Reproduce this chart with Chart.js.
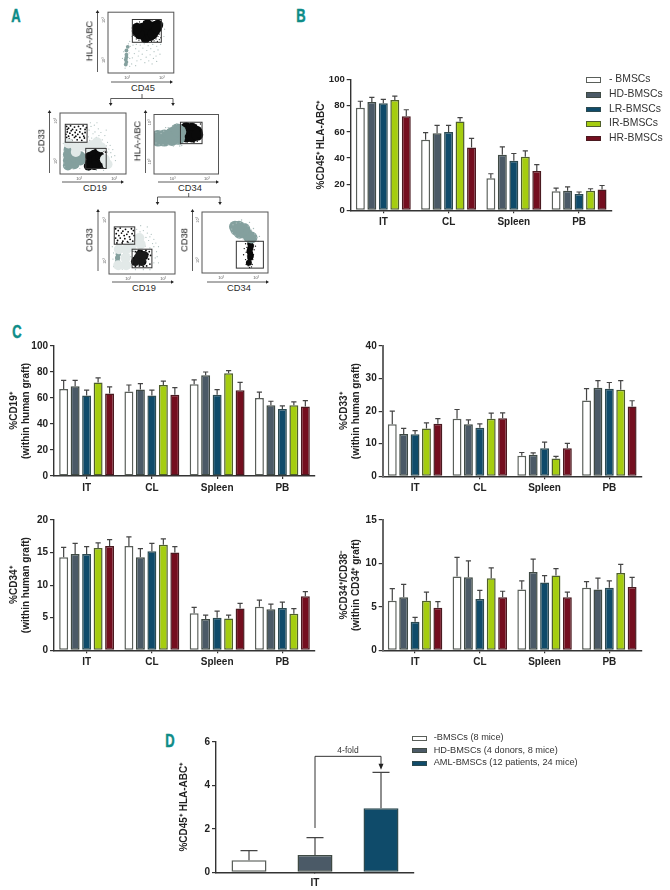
<!DOCTYPE html>
<html>
<head>
<meta charset="utf-8">
<script src="https://cdn.jsdelivr.net/npm/chart.js@4/dist/chart.umd.min.js"></script>
<style>
body { margin: 0; background: #fff; }
#page { position: relative; width: 670px; height: 890px; overflow: hidden; font-family: "Liberation Sans", sans-serif; color: #222; }
canvas { position: absolute; }
svg { position: absolute; left: 0; top: 0; }
.t { position: absolute; white-space: nowrap; line-height: 1; }
.letter { font: bold 18px "Liberation Sans", sans-serif; color: #0e8c87; -webkit-text-stroke: 0.5px #0e8c87; transform: translate(-50%, -50%) scaleX(0.72); }
.flowlab { font-size: 9.3px; transform: translate(-50%, -50%); color: #2a2a2a; }
.flowlab.rot { transform: translate(-50%, -50%) rotate(-90deg); color: #111; will-change: transform; }
.leg { font-size: 10.4px; color: #333; }
.swatch { position: absolute; box-sizing: border-box; border: 1px solid #444; }
</style>
</head>
<body>
<div id="page">
  <svg id="arrows" width="670" height="890"></svg>
  <div class="t letter" style="left:16px;top:16px">A</div>
  <div class="t letter" style="left:301px;top:16px">B</div>
  <div class="t letter" style="left:17px;top:332px">C</div>
  <div class="t letter" style="left:170px;top:741px">D</div>
</div>
<script>
// bar data
const categories = ['IT', 'CL', 'Spleen', 'PB'];
const seriesNames = ['- BMSCs', 'HD-BMSCs', 'LR-BMSCs', 'IR-BMSCs', 'HR-BMSCs'];
const fills = ['#ffffff', '#4b5a67', '#0f4b6a', '#a5cd0f', '#740e1f'];
const edges = ['#5a5f5a', '#3f4a44', '#2c4a50', '#4f5f2c', '#4a1a20'];

const bValues = [[78.5, 54, 24.5, 14.5], [83, 59, 42.5, 15], [82, 60, 38, 12.5], [84.5, 68, 41, 15], [72, 48, 30, 16]];
const bTops = [[83.5, 59.5, 28, 17], [86.5, 65, 48.5, 18], [85, 65, 43.5, 14], [87.5, 71, 45.5, 16.5], [77, 55, 35, 19]];
const cd19Values = [[67, 65, 70.5, 60], [69, 66.5, 77.5, 54.5], [62, 62, 62.5, 51.5], [72, 70, 79, 54.5], [63.5, 62.5, 66, 53.5]];
const cd19Tops = [[73.5, 70, 74, 64.5], [73.5, 71, 80, 57.5], [66, 66, 66.5, 54], [75.5, 73, 81, 57], [68.5, 68, 72, 58]];
const cd33Values = [[16, 17.7, 6.3, 23.3], [13, 16, 6.6, 27.2], [12.9, 14.9, 8.6, 26.9], [14.7, 17.7, 5.5, 26.6], [16.1, 17.8, 8.6, 21.4]];
const cd33Tops = [[20, 20.5, 7.3, 26.9], [14.7, 17.3, 7.2, 29.4], [14, 16.1, 10.5, 28.8], [16.4, 19.4, 6.1, 29.4], [17.7, 19.5, 10.1, 23.2]];
const cd34Values = [[14.3, 16, 5.7, 6.7], [14.8, 14.3, 4.8, 6.3], [14.8, 15.2, 5, 6.5], [15.7, 16.2, 4.9, 5.6], [16, 15, 6.4, 8.3]];
const cd34Tops = [[15.8, 17.4, 6.6, 7.7], [16.4, 15.6, 5.4, 7.1], [15.9, 16.4, 6, 7.4], [16.5, 17.1, 5.4, 6.4], [17, 15.9, 7.2, 9]];
const cd38Values = [[5.7, 8.5, 7, 7.2], [6.1, 8.4, 9, 7], [3.3, 5.9, 7.8, 7.2], [5.7, 8.3, 8.6, 8.9], [4.9, 6.1, 6.1, 7.3]];
const cd38Tops = [[7.1, 10.7, 8, 7.9], [7.6, 10.3, 10.5, 8.3], [3.8, 6.9, 8.6, 8], [6.7, 9.5, 9.4, 9.9], [5.6, 6.8, 6.7, 8.4]];

const dNames = ['-BMSCs (8 mice)', 'HD-BMSCs (4 donors, 8 mice)', 'AML-BMSCs (12 patients, 24 mice)'];
const dValues = [0.55, 0.8, 2.95];
const dTops = [1.0, 1.6, 4.6];

// flow plots, [x, y] in percent of the plot box, estimated by eye
const f1Gate = [[37, 81, 50.5, 88]];
const f1Black = [[44, 69], [52, 74], [61, 77], [71, 77], [76, 79], [52, 66], [61, 67], [71, 69], [57, 58], [64, 61], [47, 72], [66, 73], [56, 71], [68, 64], [74, 74], [48, 64], [44, 74], [60, 80]];
const f1BlackDots = [[38, 72], [39, 62], [41, 78], [44, 82], [48, 84], [54, 85], [60, 86], [67, 87], [73, 86], [78, 85], [80, 76], [79, 70], [78, 64], [76, 60], [73, 56], [70, 53], [66, 52], [60, 51], [52, 52], [47, 54], [43, 56], [41, 60], [75, 52], [78, 55], [80, 58]];
const f1Gray = [[28, 37], [28, 30], [27, 22], [27, 14], [30, 43], [28, 26], [28, 18]];
const f1Specks = [[31, 48], [34, 44], [38, 46], [43, 47], [49, 46], [55, 48], [61, 45], [68, 47], [74, 44], [80, 47], [85, 60], [86, 72], [84, 81], [36, 60], [33, 52], [42, 40], [47, 36], [53, 41], [59, 37], [65, 40], [70, 35], [40, 32], [46, 28], [52, 31], [58, 26], [64, 30], [69, 24], [44, 20], [50, 22], [56, 17], [62, 20], [67, 15], [37, 25], [36, 15], [42, 12], [76, 38], [79, 31], [73, 28], [22, 24], [24, 35], [33, 24], [32, 33], [33, 11], [26, 8], [74, 19]];

const f2Gates = [[8, 41, 52, 81.5], [39, 70, 9, 42]];
const f2Black = [[45, 29], [45, 19], [54, 34], [54, 24], [60, 17], [49, 37], [60, 30], [52, 14], [43, 13]];
const f2Gray = [[12, 22], [12, 32], [22, 16], [22, 27], [31, 22], [31, 29], [13, 40], [12, 14]];
const f2Pale = [[13, 50], [24, 44], [36, 46], [48, 47], [62, 44], [24, 36], [42, 44], [56, 52], [68, 24], [72, 16]];
const f2BlackDots = [[10, 78], [13, 75], [16, 79], [19, 73], [22, 77], [25, 72], [28, 78], [31, 74], [35, 79], [38, 73], [11, 69], [15, 67], [19, 64], [23, 68], [27, 65], [30, 69], [34, 66], [38, 68], [10, 60], [14, 58], [18, 55], [22, 60], [26, 56], [30, 60], [33, 55], [37, 59], [12, 54], [11, 73], [17, 71], [24, 62], [36, 62], [13, 62], [40, 76], [9, 65], [66, 38], [68, 28], [67, 18], [65, 11], [42, 40], [69, 36], [63, 40], [48, 10], [58, 11], [68, 12]];
const f2Specks = [[44, 72], [50, 66], [55, 60], [62, 68], [68, 63], [72, 52], [76, 47], [80, 40], [78, 28], [75, 20], [72, 12], [47, 78], [52, 80], [58, 74], [64, 56], [8, 46], [6, 38], [5, 28], [6, 18], [20, 8], [30, 9], [42, 6], [55, 6], [66, 6], [72, 36], [83, 30], [45, 55], [38, 46], [50, 44], [60, 44], [24, 46], [16, 46], [32, 40], [5, 50], [7, 12], [84, 22], [70, 72], [56, 84], [46, 84], [43, 61], [48, 59], [53, 69], [59, 63], [65, 49], [70, 46], [74, 41], [77, 35], [44, 50], [55, 47], [20, 49], [28, 50], [36, 43]];

const f3Gate = [[41, 74.5, 51, 87]];
const f3Black = [[50, 71], [59, 71], [66, 71], [50, 77], [59, 76], [50, 63], [59, 63], [46, 70], [67, 66]];
const f3Gray = [[6, 63], [16, 64], [25, 65], [35, 68], [40, 71], [16, 57], [28, 58], [38, 60], [6, 57], [28, 68], [36, 74]];
const f3BlackDots = [[43, 82], [46, 84], [52, 84], [57, 85], [61, 83], [66, 82], [70, 78], [72, 72], [73, 65], [71, 58], [67, 55], [62, 53], [57, 56], [52, 54], [47, 55], [43, 57], [69, 61], [64, 79], [72, 84]];
const f3Specks = [[3, 70], [9, 73], [15, 72], [22, 78], [29, 81], [35, 84], [3, 52], [8, 49], [14, 49], [22, 49], [30, 47], [37, 50], [40, 47], [43, 48], [18, 78], [11, 68]];

const f4Gates = [[8, 39, 48, 76], [35, 65, 10, 40]];
const f4Black = [[44, 26], [50, 20], [47, 32], [40, 20], [53, 30]];
const f4Gray = [[13, 26], [13, 20], [14, 32]];
const f4Pale = [[15, 40], [26, 40], [34, 44], [25, 26], [26, 14], [14, 14], [48, 48], [46, 58]];
const f4BlackDots = [[10, 73], [14, 70], [17, 74], [21, 69], [25, 72], [29, 68], [34, 73], [37, 70], [11, 65], [15, 62], [19, 66], [23, 62], [27, 64], [31, 60], [35, 65], [38, 62], [10, 58], [13, 54], [17, 58], [21, 53], [24, 57], [28, 52], [32, 56], [36, 53], [12, 50], [20, 50], [30, 50], [37, 49], [36, 37], [40, 36], [45, 38], [50, 37], [56, 38], [61, 36], [63, 30], [60, 24], [62, 16], [57, 13], [52, 12], [46, 13], [40, 12], [36, 16], [37, 26], [57, 25], [55, 18], [59, 32]];
const f4Specks = [[42, 72], [47, 68], [52, 70], [58, 66], [64, 64], [68, 56], [71, 50], [68, 44], [72, 36], [70, 26], [68, 18], [45, 56], [52, 56], [60, 54], [42, 46], [48, 44], [55, 45], [62, 42], [5, 44], [7, 34], [6, 24], [7, 12], [20, 8], [30, 10], [40, 7], [52, 7], [62, 7], [22, 34], [30, 32], [28, 20], [20, 18], [33, 28], [75, 44], [58, 76], [48, 78], [43, 63], [50, 61], [56, 59], [62, 60], [66, 49], [73, 28], [75, 18], [44, 50]];

const f5Gate = [[52, 93, 8, 52]];
const f5Black = [[73, 48], [73, 40], [73, 32], [73, 25], [71, 17], [74, 44], [72, 36], [74, 28]];
const f5Gray = [[52, 71], [59, 71], [66, 66], [71, 60], [57, 66], [75, 58], [64, 72], [50, 76], [56, 76]];
const f5BlackDots = [[66, 48], [68, 42], [67, 34], [69, 28], [66, 22], [69, 18], [70, 12], [72, 9], [78, 46], [79, 38], [78, 30], [77, 22], [76, 14], [64, 40], [63, 30], [81, 44], [67, 14], [75, 10]];
const f5Specks = [[47, 79], [52, 82], [58, 83], [64, 81], [70, 77], [75, 70], [80, 64], [83, 58], [85, 52], [46, 66], [50, 62], [56, 58], [62, 56], [68, 52], [45, 72], [78, 73], [87, 60], [60, 87], [72, 83]];

const flowTickX = [29, 82];
const flowTickY = [21, 87];

const page = document.getElementById('page');

function addCanvas(left, top, width, height) {
    const c = document.createElement('canvas');
    c.width = width;
    c.height = height;
    c.style.left = left + 'px';
    c.style.top = top + 'px';
    page.appendChild(c);
    return c.getContext('2d');
}

// upper error bars, read from the dataset's tops and drawn through the scales
const errorBars = {
    id: 'errorBars',
    afterDatasetsDraw(chart, args, opts) {
        const ctx = chart.ctx, y = chart.scales.y;
        ctx.save();
        ctx.strokeStyle = '#444';
        ctx.lineWidth = 1.2;
        chart.data.datasets.forEach((ds, i) => {
            chart.getDatasetMeta(i).data.forEach((bar, j) => {
                const top = y.getPixelForValue(ds.tops[j]);
                const base = y.getPixelForValue(ds.data[j]);
                ctx.beginPath();
                ctx.moveTo(bar.x, base);
                ctx.lineTo(bar.x, top);
                ctx.moveTo(bar.x - opts.cap, top);
                ctx.lineTo(bar.x + opts.cap, top);
                ctx.stroke();
            });
        });
        ctx.restore();
    }
};

function barChart(box, names, values, tops, yMax, yStep, title, extra) {
    const ctx = addCanvas(box.left, box.top, box.width, box.height);
    return new Chart(ctx, {
        type: 'bar',
        data: {
            labels: box.labels || categories,
            datasets: names.map((n, i) => ({
                label: n,
                data: values[i],
                tops: tops[i],
                backgroundColor: fills[i],
                borderColor: edges[i],
                borderWidth: 1.5,
                borderSkipped: false,
                categoryPercentage: box.catPct || 0.88,
                barPercentage: box.barPct || 0.78
            }))
        },
        options: {
            responsive: false,
            animation: false,
            layout: { padding: { top: box.padTop, right: box.padRight, left: 0, bottom: 0 } },
            plugins: {
                legend: { display: false },
                tooltip: { enabled: false },
                errorBars: { cap: box.cap || 2.6 }
            },
            scales: {
                x: {
                    afterFit: s => { s.height = box.axisBottom; },
                    border: { color: '#333', width: 1.4 },
                    grid: { display: true, drawOnChartArea: false, offset: false, color: '#333', lineWidth: 1.2, tickLength: box.xTick === undefined ? 3 : box.xTick },
                    ticks: { color: '#222', font: { family: 'Liberation Sans', size: 10, weight: 'bold' }, padding: box.xPad || 3, maxRotation: 0 }
                },
                y: {
                    min: 0,
                    max: yMax,
                    afterFit: s => { s.width = box.axisLeft; },
                    border: { color: box.yColor || '#333', width: box.yWidth || 1.4 },
                    grid: { display: true, drawOnChartArea: false, color: '#333', lineWidth: 1.2, tickLength: 4 },
                    ticks: { stepSize: yStep, color: '#222', font: { family: 'Liberation Sans', size: box.ySize || 10, weight: 'bold' }, padding: 2 },
                    title: { display: true, text: title, color: '#222', font: { family: 'Liberation Sans', size: 10, weight: 'bold', lineHeight: 1.2 }, padding: 0 }
                }
            }
        },
        plugins: extra ? [errorBars, extra] : [errorBars]
    });
}

// panel B
barChart({ left: 315, top: 72, width: 300, height: 158, padTop: 7.3, padRight: 3.3, axisLeft: 35.7, axisBottom: 19.7, ySize: 9.5 },
    seriesNames, bValues, bTops, 100, 20, '%CD45⁺ HLA-ABC⁺');

// panel C
barChart({ left: 8, top: 338, width: 310, height: 158, padTop: 7.7, padRight: 3, axisLeft: 46, axisBottom: 20 },
    seriesNames, cd19Values, cd19Tops, 100, 20, ['%CD19⁺', '(within human graft)']);
barChart({ left: 338, top: 338, width: 307, height: 158, padTop: 7.7, padRight: 3.3, axisLeft: 44.7, axisBottom: 19.7, yColor: '#666', yWidth: 2 },
    seriesNames, cd33Values, cd33Tops, 40, 10, ['%CD33⁺', '(within human graft)']);
barChart({ left: 8, top: 512, width: 310, height: 158, padTop: 7, padRight: 3, axisLeft: 46, axisBottom: 19.7 },
    seriesNames, cd34Values, cd34Tops, 20, 5, ['%CD34⁺', '(within human graft)']);
barChart({ left: 338, top: 512, width: 307, height: 158, padTop: 7, padRight: 3.3, axisLeft: 44.7, axisBottom: 19.7, yColor: '#666', yWidth: 2 },
    seriesNames, cd38Values, cd38Tops, 15, 5, ['%CD34⁺/CD38⁻', '(within CD34⁺ graft)']);

// panel D, the bracket hangs off the same scales as the bars
const bracket = {
    id: 'bracket',
    afterDatasetsDraw(chart) {
        const ctx = chart.ctx, y = chart.scales.y;
        const x0 = chart.getDatasetMeta(1).data[0].x;
        const x1 = chart.getDatasetMeta(2).data[0].x;
        const yTop = y.getPixelForValue(5.34);
        ctx.save();
        ctx.strokeStyle = '#333';
        ctx.fillStyle = '#222';
        ctx.lineWidth = 1;
        ctx.beginPath();
        ctx.moveTo(x0, y.getPixelForValue(2.04));
        ctx.lineTo(x0, yTop);
        ctx.lineTo(x1, yTop);
        ctx.lineTo(x1, y.getPixelForValue(4.9));
        ctx.stroke();
        ctx.beginPath();
        ctx.moveTo(x1 - 2.5, y.getPixelForValue(5.0));
        ctx.lineTo(x1 + 2.5, y.getPixelForValue(5.0));
        ctx.lineTo(x1, y.getPixelForValue(4.72));
        ctx.fill();
        ctx.font = '8.5px "Liberation Sans", sans-serif';
        ctx.textAlign = 'center';
        ctx.fillStyle = '#333';
        ctx.fillText('4-fold', (x0 + x1) / 2, yTop - 3);
        ctx.restore();
    }
};
barChart({ left: 178, top: 734, width: 238, height: 156, padTop: 6.7, padRight: 2, axisLeft: 38, axisBottom: 17.7, labels: ['IT'], catPct: 1, barPct: 0.53, cap: 8.5, xTick: 0, xPad: 5 },
    dNames, dValues.map(v => [v]), dTops.map(v => [v]), 6, 2, '%CD45⁺ HLA-ABC⁺', bracket);

// gates, box and the tiny 10^x labels of a flow plot
const flowFrame = {
    id: 'flowFrame',
    afterDatasetsDraw(chart, args, opts) {
        const ctx = chart.ctx, a = chart.chartArea, sx = chart.scales.x, sy = chart.scales.y;
        ctx.save();
        ctx.strokeStyle = '#555';
        ctx.lineWidth = 1;
        ctx.strokeRect(a.left, a.top, a.right - a.left, a.bottom - a.top);
        ctx.strokeStyle = '#333';
        opts.gates.forEach(g => {
            ctx.strokeRect(sx.getPixelForValue(g[0]), sy.getPixelForValue(g[3]), sx.getPixelForValue(g[1]) - sx.getPixelForValue(g[0]), sy.getPixelForValue(g[2]) - sy.getPixelForValue(g[3]));
        });
        ctx.fillStyle = '#555';
        ctx.font = '4px "Liberation Sans", sans-serif';
        ctx.textAlign = 'center';
        flowTickX.forEach(t => ctx.fillText('10³', sx.getPixelForValue(t), a.bottom + 6));
        flowTickY.forEach(t => {
            ctx.save();
            ctx.translate(a.left - 3, sy.getPixelForValue(t));
            ctx.rotate(-Math.PI / 2);
            ctx.fillText('10³', 0, 0);
            ctx.restore();
        });
        ctx.restore();
    }
};

function flowChart(b, gates, layers) {
    const ctx = addCanvas(b.x - 10, b.y - 2, b.w + 12, b.h + 10);
    return new Chart(ctx, {
        type: 'scatter',
        data: {
            datasets: layers.map(l => ({
                data: l.data,
                pointRadius: l.r,
                pointBackgroundColor: l.color,
                pointBorderWidth: 0
            }))
        },
        options: {
            responsive: false,
            animation: false,
            layout: { padding: { left: 10, top: 2, right: 2, bottom: 8 } },
            plugins: { legend: { display: false }, tooltip: { enabled: false }, flowFrame: { gates: gates } },
            scales: {
                x: { display: false, min: 0, max: 100 },
                y: { display: false, min: 0, max: 100 }
            }
        },
        plugins: [flowFrame]
    });
}

const GRAY = '#84a09e', PALE = '#e2e9e8', SPECK = '#a9bcba', BLACK = '#0a0a0a';

flowChart({ x: 107.5, y: 8.5, w: 69.5, h: 64 }, f1Gate, [
    { data: f1Specks, r: 0.6, color: SPECK },
    { data: f1Gray, r: 1.9, color: GRAY },
    { data: f1BlackDots, r: 0.6, color: BLACK },
    { data: f1Black, r: 5.2, color: BLACK }
]);
flowChart({ x: 59.5, y: 109.5, w: 69, h: 64.5 }, f2Gates, [
    { data: f2Pale, r: 5, color: PALE },
    { data: f2Specks, r: 0.6, color: SPECK },
    { data: f2Gray, r: 5, color: GRAY },
    { data: f2BlackDots, r: 0.9, color: BLACK },
    { data: f2Black, r: 4.6, color: BLACK }
]);
flowChart({ x: 154, y: 109.5, w: 69.5, h: 64.5 }, f3Gate, [
    { data: f3Specks, r: 0.7, color: SPECK },
    { data: f3Gray, r: 6.5, color: GRAY },
    { data: f3BlackDots, r: 0.7, color: BLACK },
    { data: f3Black, r: 6, color: BLACK }
]);
flowChart({ x: 108.5, y: 208.5, w: 69, h: 65 }, f4Gates, [
    { data: f4Pale, r: 5, color: PALE },
    { data: f4Specks, r: 0.6, color: SPECK },
    { data: f4Gray, r: 2.6, color: GRAY },
    { data: f4BlackDots, r: 0.9, color: BLACK },
    { data: f4Black, r: 4.5, color: '#1a1a1a' }
]);
flowChart({ x: 202, y: 208, w: 70, h: 65 }, f5Gate, [
    { data: f5Specks, r: 0.7, color: SPECK },
    { data: f5Gray, r: 6, color: GRAY },
    { data: f5BlackDots, r: 0.7, color: BLACK },
    { data: f5Black, r: 3, color: BLACK }
]);

// flow axis arrows and the gating connectors
const svgParts = [];
function arrowLine(x1, y1, x2, y2) {
    svgParts.push(`<line x1="${x1}" y1="${y1}" x2="${x2}" y2="${y2}" stroke="#333" stroke-width="0.8"/>`);
    const dx = Math.sign(x2 - x1), dy = Math.sign(y2 - y1);
    svgParts.push(`<polygon fill="#222" points="${x2 + dx * 2},${y2 + dy * 2} ${x2 - dx * 1 - dy * 1.8},${y2 - dy * 1 - dx * 1.8} ${x2 - dx * 1 + dy * 1.8},${y2 - dy * 1 + dx * 1.8}"/>`);
}
function plainLine(x1, y1, x2, y2) {
    svgParts.push(`<line x1="${x1}" y1="${y1}" x2="${x2}" y2="${y2}" stroke="#333" stroke-width="0.8"/>`);
}
function flowAxes(vx, vy1, vy2, hy, hx1, hx2) {
    arrowLine(vx, vy1, vx, vy2);
    arrowLine(hx1, hy, hx2, hy);
}
flowAxes(97.5, 72, 12, 82, 111, 171);
flowAxes(49.5, 173, 112, 182, 62, 122);
flowAxes(145.5, 173, 112, 182, 158, 217);
flowAxes(98, 271, 211, 282, 112, 172);
flowAxes(192.5, 271, 211, 282, 207, 267);
plainLine(142, 94, 142, 98.5);
plainLine(110.7, 98.5, 173, 98.5);
arrowLine(110.7, 98.5, 110.7, 104);
arrowLine(173, 98.5, 173, 104);
plainLine(188.7, 193, 188.7, 197);
plainLine(157.5, 197, 220, 197);
arrowLine(157.5, 197, 157.5, 203);
arrowLine(220, 197, 220, 203);
document.getElementById('arrows').innerHTML = svgParts.join('');

function addText(cls, text, x, y) {
    const d = document.createElement('div');
    d.className = 't ' + cls;
    d.textContent = text;
    d.style.left = x + 'px';
    d.style.top = y + 'px';
    page.appendChild(d);
}
[['CD45', 143, 88.5], ['CD19', 95, 189], ['CD34', 190, 189], ['CD19', 144, 288.5], ['CD34', 239, 288.5]].forEach(l => addText('flowlab', l[0], l[1], l[2]));
[['HLA-ABC', 90, 41], ['CD33', 42, 141], ['HLA-ABC', 138, 141], ['CD33', 90, 240], ['CD38', 185, 240]].forEach(l => addText('flowlab rot', l[0], l[1], l[2]));

// legends
function legend(names, boxX, boxW, boxH, rows, textX, size) {
    names.forEach((n, i) => {
        const s = document.createElement('div');
        s.className = 'swatch';
        s.style.cssText = `left:${boxX}px;top:${rows[i] - boxH / 2}px;width:${boxW}px;height:${boxH}px;background:${fills[i]};border-color:${edges[i]}`;
        page.appendChild(s);
        addText('leg', n, textX, rows[i] - size * 0.55);
        page.lastChild.style.fontSize = size + 'px';
    });
}
legend(seriesNames, 586, 15, 5.5, [80, 95, 109.7, 124, 138.3], 609, 10.4);
legend(dNames, 411.7, 15, 5.5, [738.3, 750.7, 763.3], 433.7, 9.2);
</script>
</body>
</html>
